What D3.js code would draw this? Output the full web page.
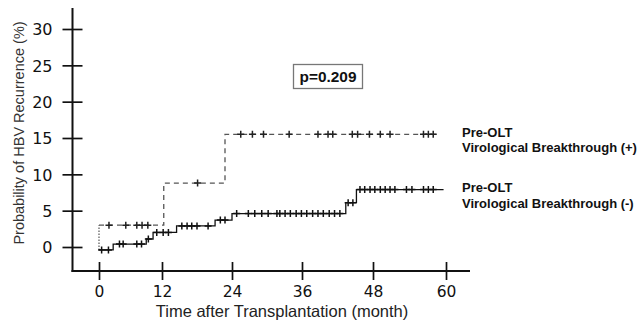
<!DOCTYPE html>
<html>
<head>
<meta charset="utf-8">
<script src="https://cdn.jsdelivr.net/npm/d3@7"></script>
<style>
  body { margin: 0; background: #fff; }
  svg { display: block; }
</style>
</head>
<body>
<div class="kmChart"></div>
<script>
// x ticks (months) and y ticks (%)
var monthTicks = [0, 12, 24, 36, 48, 60];
var pctTicks = [0, 5, 10, 15, 20, 25, 30];

// Pre-OLT virological breakthrough (+): step times / levels, censored times
var posTimes = [0, 12.3, 22.8];
var posLevels = [3.0, 8.8, 15.5];
var posEnd = 58.5;
var posCensor = [1.9, 5.1, 7.2, 8.2, 9.3, 18.1, 25.5, 27.5, 29.4, 33.8, 38.7, 40.4, 41.2,
  44.5, 45.4, 47.4, 49.2, 50.8, 56.3, 57.1, 57.9];

// Pre-OLT virological breakthrough (-)
var negTimes = [0, 2.7, 9.0, 10.3, 14.5, 21.1, 24.0, 43.4, 45.2];
var negLevels = [-0.4, 0.4, 1.1, 2.0, 2.9, 3.7, 4.6, 6.1, 7.9];
var negEnd = 59.6;
var negCensor = [0.5, 1.8, 3.9, 4.6, 7.2, 8.1, 9.4, 11.0, 12.2, 13.1, 15.4, 16.3, 17.1, 18.0,
  19.9, 22.0, 22.8, 24.8, 26.8, 27.9, 29.1, 30.2, 31.7, 32.2, 33.1, 34.0, 35.0, 35.9, 36.8,
  37.8, 38.7, 39.6, 40.6, 41.5, 42.4, 43.8, 44.6, 45.8, 46.6, 47.5, 48.3, 49.2, 50.0, 50.8,
  51.6, 53.5, 54.4, 56.3, 57.1, 57.9];

var legendLabels = [["Pre-OLT", "Virological Breakthrough (+)"], ["Pre-OLT", "Virological Breakthrough (-)"]];
var pText = "p=0.209";

var W = 642, H = 328;
var axX = 72.5, axY = 271;

var svg = d3.select('.kmChart').append('svg').attr('width', W).attr('height', H);

// hand drawn axis in the original is a bit uneven, so the scale is polylinear
var x = d3.scaleLinear().domain(monthTicks).range([99, 162, 232, 302, 373, 446]);
var y = d3.scaleLinear().domain([0, 30]).range([247, 29]);

// axes
var yAxis = svg.append('g').attr('transform', 'translate(' + axX + ',0)')
  .call(d3.axisLeft(y).tickValues(pctTicks).tickSize(10).tickPadding(0));
yAxis.select('.domain').remove();
yAxis.selectAll('.tick line').attr('x1', -10).attr('x2', 10)
  .attr('stroke', '#111').attr('stroke-width', 1.7);
yAxis.selectAll('.tick text').attr('x', -20).attr('dy', '0.36em')
  .style('font-family', '"DejaVu Sans", sans-serif').style('font-size', '16px').attr('fill', '#111');

var xAxis = svg.append('g').attr('transform', 'translate(0,' + axY + ')')
  .call(d3.axisBottom(x).tickValues(monthTicks).tickSize(9).tickPadding(0));
xAxis.select('.domain').remove();
xAxis.selectAll('.tick line').attr('y1', -9).attr('y2', 9)
  .attr('stroke', '#111').attr('stroke-width', 1.7);
xAxis.selectAll('.tick text').attr('y', 15).attr('dy', '0.71em')
  .style('font-family', '"DejaVu Sans", sans-serif').style('font-size', '15.5px').attr('fill', '#111');

svg.append('line').attr('x1', axX).attr('x2', axX).attr('y1', 8).attr('y2', axY + 1)
  .attr('stroke', '#111').attr('stroke-width', 2);
svg.append('line').attr('x1', axX - 1).attr('x2', 470).attr('y1', axY).attr('y2', axY)
  .attr('stroke', '#111').attr('stroke-width', 2);

// axis titles
svg.append('text').attr('x', 282).attr('y', 317).attr('text-anchor', 'middle')
  .style('font-family', '"Liberation Sans", Arial, sans-serif').style('font-size', '16.5px')
  .attr('fill', '#222').text('Time after Transplantation (month)');
svg.append('text').attr('transform', 'translate(24,133) rotate(-90)').attr('text-anchor', 'middle')
  .style('font-family', '"Liberation Sans", Arial, sans-serif').style('font-size', '14.5px')
  .attr('fill', '#333').text('Probability of HBV Recurrence (%)');

// curves
function levelAt(times, levels, t) {
  var lv = levels[0];
  for (var i = 0; i < times.length; i++) if (times[i] <= t) lv = levels[i];
  return lv;
}
function stepPoints(times, levels, end) {
  var pts = times.map(function(t, i) { return [t, levels[i]]; });
  pts.push([end, levels[levels.length - 1]]);
  return pts;
}
var line = d3.line().x(function(d) { return x(d[0]); }).y(function(d) { return y(d[1]); })
  .curve(d3.curveStepAfter);

function drawCurve(times, levels, end, censor, color, markColor, dash) {
  var g = svg.append('g');
  g.append('path').datum(stepPoints(times, levels, end)).attr('d', line)
    .attr('fill', 'none').attr('stroke', color).attr('stroke-width', 1.3)
    .attr('stroke-dasharray', dash);
  g.selectAll('path.cens').data(censor).enter().append('path').attr('class', 'cens')
    .attr('d', function(t) {
      var cx = x(t), cy = y(levelAt(times, levels, t));
      return 'M' + (cx - 3.5) + ',' + cy + 'H' + (cx + 3.5) + 'M' + cx + ',' + (cy - 3.5) + 'V' + (cy + 3.5);
    })
    .attr('stroke', markColor).attr('stroke-width', 1.5);
}

// dotted start of the (+) curve
svg.append('line').attr('x1', x(0)).attr('x2', x(0))
  .attr('y1', y(negLevels[0])).attr('y2', y(posLevels[0]))
  .attr('stroke', '#555').attr('stroke-width', 1.2).attr('stroke-dasharray', '1.5,1.5');

drawCurve(posTimes, posLevels, posEnd, posCensor, '#555', '#222', '5,4');
drawCurve(negTimes, negLevels, negEnd, negCensor, '#111', '#111', null);

// p value box
svg.append('rect').attr('x', 293.5).attr('y', 64.5).attr('width', 69).attr('height', 24)
  .attr('fill', '#fff').attr('stroke', '#777').attr('stroke-width', 1.3);
svg.append('text').attr('x', 328).attr('y', 82).attr('text-anchor', 'middle')
  .style('font-family', '"Liberation Sans", Arial, sans-serif').style('font-size', '15.4px')
  .style('font-weight', 'bold').attr('fill', '#111').text(pText);

// legend, placed next to each curve end
var ends = [posLevels[posLevels.length - 1], negLevels[negLevels.length - 1]];
legendLabels.forEach(function(lines, i) {
  var t = svg.append('text').attr('x', 462).attr('y', y(ends[i]) + 2.5)
    .style('font-family', '"Liberation Sans", Arial, sans-serif').style('font-size', '13px')
    .style('font-weight', 'bold').attr('fill', '#111');
  lines.forEach(function(s, j) {
    t.append('tspan').attr('x', 462).attr('dy', j === 0 ? 0 : 15.5).text(s);
  });
});
</script>
</body>
</html>
